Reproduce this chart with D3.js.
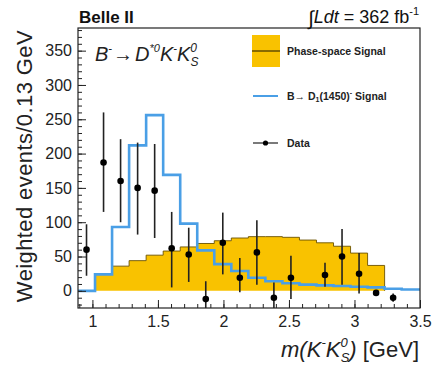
<!DOCTYPE html>
<html>
<head>
<meta charset="utf-8">
<script src="https://cdn.jsdelivr.net/npm/d3@7"></script>
<style>
  body { margin: 0; background: #fff; }
  svg { font-family: "Liberation Sans", Arial, Helvetica, sans-serif; }
</style>
</head>
<body>
<svg id="chart" width="433" height="365"></svg>
<script>
// bin edges, 0.13 GeV wide
const binEdges = [0.89, 1.02, 1.15, 1.28, 1.41, 1.54, 1.67, 1.80, 1.93, 2.06, 2.19,
                  2.32, 2.45, 2.58, 2.71, 2.84, 2.97, 3.10, 3.23, 3.36, 3.49];
// phase-space signal (yellow), one value per bin
const phaseSpace = [0, 24, 36, 44, 52, 58, 64, 69, 73, 77, 79, 79, 78, 74, 70, 65, 55, 37, 0, 0];
// B -> D1(1450) signal (blue), one value per bin
const d1Signal = [0, 24, 93, 212, 256, 169, 98, 59, 39, 29, 19, 14, 11, 9, 8, 7, 6, 5, 3, 2];
// data points
const dataX   = [0.955, 1.085, 1.215, 1.345, 1.475, 1.605, 1.735, 1.865, 1.995, 2.125,
                 2.255, 2.385, 2.515, 2.775, 2.905, 3.035, 3.165, 3.295];
const dataY   = [60, 187, 160, 150, 146, 62, 53, -12, 70, 19, 56, -10, 19, 23, 50, 25, -3, -10];
const dataLo  = [22, 115, 100, 82, 77, 5, 13, -40, 24, -2, 9, -35, -12, 6, 9, -4, -6, -16];
const dataHi  = [97, 260, 221, 216, 214, 115, 92, 14, 114, 48, 103, 12, 51, 41, 90, 55, 0, -4];
const xTicks = [1, 1.5, 2, 2.5, 3, 3.5];
const yTicks = [0, 50, 100, 150, 200, 250, 300, 350];

const svg = d3.select("#chart");
const margin = { top: 28, right: 13, bottom: 57, left: 78 };
const W = 433 - margin.left - margin.right;
const H = 365 - margin.top - margin.bottom;

const x = d3.scaleLinear().domain([0.89, 3.5]).range([0, W]);
const y = d3.scaleLinear().domain([-25, 383]).range([H, 0]);

const g = svg.append("g").attr("transform", `translate(${margin.left},${margin.top})`);

svg.append("defs").append("clipPath").attr("id", "plotclip")
  .append("rect").attr("width", W).attr("height", H);

const plot = g.append("g").attr("clip-path", "url(#plotclip)");

// step path helper: goes along bin tops, starting/ending at 0
function stepPoints(vals) {
  const pts = [[binEdges[0], 0]];
  vals.forEach((v, i) => {
    pts.push([binEdges[i], v]);
    pts.push([binEdges[i + 1], v]);
  });
  pts.push([binEdges[binEdges.length - 1], 0]);
  return pts;
}
const line = d3.line().x(d => x(d[0])).y(d => y(d[1]));

// yellow phase-space histogram
plot.append("path")
  .attr("d", line(stepPoints(phaseSpace)) + "Z")
  .attr("fill", "#f9c200")
  .attr("stroke", "none");
// thin dark top outline
plot.append("path")
  .attr("d", line(stepPoints(phaseSpace).filter((d, i, a) => d[1] > 0 || (a[i - 1] && a[i - 1][1] > 0) || (a[i + 1] && a[i + 1][1] > 0))))
  .attr("fill", "none")
  .attr("stroke", "#6b5200")
  .attr("stroke-width", 0.9);

// blue D1 histogram
const bluePts = stepPoints(d1Signal);
bluePts[0] = [0.85, 0];
bluePts[bluePts.length - 1] = [3.6, d1Signal[d1Signal.length - 1]];
plot.append("path")
  .attr("d", line(bluePts))
  .attr("fill", "none")
  .attr("stroke", "#4a9fe6")
  .attr("stroke-width", 2.6);

// data with error bars
const pts = plot.append("g");
dataX.forEach((v, i) => {
  pts.append("line")
    .attr("x1", x(v)).attr("x2", x(v))
    .attr("y1", y(dataLo[i])).attr("y2", y(dataHi[i]))
    .attr("stroke", "#222").attr("stroke-width", 1.6);
  pts.append("circle")
    .attr("cx", x(v)).attr("cy", y(dataY[i])).attr("r", 3.3)
    .attr("fill", "#000");
});

// axes: ticks inside the frame
const xMinor = d3.range(9, 36).map(d => d / 10);
const yMinor = d3.range(-20, 381, 10);

g.append("g").attr("transform", `translate(0,${H})`)
  .call(d3.axisBottom(x).tickValues(xMinor).tickSize(-4).tickFormat(""))
  .call(a => a.select(".domain").remove());
g.append("g").attr("transform", `translate(0,${H})`)
  .call(d3.axisBottom(x).tickValues(xTicks).tickSize(-8).tickPadding(8).tickFormat(d3.format("")))
  .call(a => a.select(".domain").remove())
  .call(a => a.selectAll("text").attr("font-size", 16).attr("fill", "#222"));

g.append("g")
  .call(d3.axisLeft(y).tickValues(yMinor).tickSize(-4).tickFormat(""))
  .call(a => a.select(".domain").remove());
g.append("g")
  .call(d3.axisLeft(y).tickValues(yTicks).tickSize(-8).tickPadding(6))
  .call(a => a.select(".domain").remove())
  .call(a => a.selectAll("text").attr("font-size", 16).attr("fill", "#222"));

g.selectAll(".tick line").attr("stroke", "#222");

// frame
g.append("rect").attr("width", W).attr("height", H)
  .attr("fill", "none").attr("stroke", "#222").attr("stroke-width", 1.2);

// header texts
svg.append("text").attr("x", 79).attr("y", 23)
  .attr("font-size", 17).attr("font-weight", "bold").attr("fill", "#111")
  .text("Belle II");

const lumi = svg.append("text").attr("x", 419).attr("y", 23)
  .attr("text-anchor", "end").attr("font-size", 18).attr("fill", "#111");
lumi.append("tspan").attr("font-size", 20).attr("dy", 2).text("∫");
lumi.append("tspan").attr("font-style", "italic").attr("dy", -2).text("Ldt");
lumi.append("tspan").text(" = 362 fb");
lumi.append("tspan").attr("font-size", 11).attr("dy", -8).text("-1");

// decay label
const dec = svg.append("text").attr("x", 95).attr("y", 61)
  .attr("font-size", 20).attr("font-style", "italic").attr("fill", "#222");
dec.append("tspan").text("B");
dec.append("tspan").attr("font-size", 11).attr("dy", -9).text("-");
dec.append("tspan").attr("dy", 9).attr("dx", 1).attr("font-style", "normal").text("→");
dec.append("tspan").attr("dx", 2).text("D");
dec.append("tspan").attr("font-size", 11).attr("dy", -9).text("*0");
dec.append("tspan").attr("dy", 9).text("K");
dec.append("tspan").attr("font-size", 11).attr("dy", -9).text("-");
dec.append("tspan").attr("dy", 9).text("K");
dec.append("tspan").attr("font-size", 12).attr("dy", -9).text("0");
dec.append("tspan").attr("font-size", 12).attr("dx", -6.5).attr("dy", 14).text("S");

// legend
const leg = svg.append("g");
leg.append("rect").attr("x", 252).attr("y", 35).attr("width", 28).attr("height", 32)
  .attr("fill", "#f9c200");
leg.append("line").attr("x1", 252).attr("x2", 280).attr("y1", 51).attr("y2", 51)
  .attr("stroke", "#5a4500").attr("stroke-width", 1.4);
leg.append("line").attr("x1", 253).attr("x2", 278).attr("y1", 96).attr("y2", 96)
  .attr("stroke", "#4a9fe6").attr("stroke-width", 2);
leg.append("line").attr("x1", 253).attr("x2", 278).attr("y1", 143).attr("y2", 143)
  .attr("stroke", "#222").attr("stroke-width", 1.2);
leg.append("circle").attr("cx", 265.5).attr("cy", 143).attr("r", 2.6).attr("fill", "#000");

const legText = [["Phase-space Signal", 55], ["Data", 147]];
legText.forEach(([t, yy]) => {
  leg.append("text").attr("x", 287).attr("y", yy)
    .attr("font-size", 10.5).attr("font-weight", "bold").attr("fill", "#222").text(t);
});
const d1t = leg.append("text").attr("x", 287).attr("y", 100)
  .attr("font-size", 10.5).attr("font-weight", "bold").attr("fill", "#222");
d1t.append("tspan").text("B→ D");
d1t.append("tspan").attr("font-size", 7).attr("dy", 2).text("1");
d1t.append("tspan").attr("dy", -2).text("(1450)");
d1t.append("tspan").attr("font-size", 7).attr("dy", -5).text("-");
d1t.append("tspan").attr("dy", 5).text(" Signal");

// axis titles
svg.append("text")
  .attr("transform", "translate(32,30) rotate(-90)")
  .attr("text-anchor", "end").attr("font-size", 22).attr("letter-spacing", 0.4).attr("fill", "#222")
  .text("Weighted events/0.13 GeV");

const xt = svg.append("text").attr("x", 419).attr("y", 357)
  .attr("text-anchor", "end").attr("font-size", 22).attr("fill", "#222");
xt.append("tspan").attr("font-style", "italic").text("m(K");
xt.append("tspan").attr("font-style", "italic").attr("font-size", 13).attr("dy", -10).text("-");
xt.append("tspan").attr("font-style", "italic").attr("dy", 10).text("K");
xt.append("tspan").attr("font-style", "italic").attr("font-size", 13).attr("dy", -10).text("0");
xt.append("tspan").attr("font-style", "italic").attr("font-size", 13).attr("dx", -7).attr("dy", 15).text("S");
xt.append("tspan").attr("font-style", "italic").attr("dy", -5).text(")");
xt.append("tspan").text(" [GeV]");
</script>
</body>
</html>
